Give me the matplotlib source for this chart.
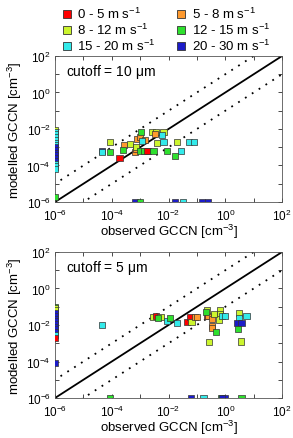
import numpy as np
from matplotlib import pyplot as plt
from matplotlib.lines import Line2D

plt.rcParams['font.family'] = ['Liberation Sans', 'DejaVu Sans']
plt.rcParams['mathtext.fontset'] = 'custom'
plt.rcParams['mathtext.rm'] = 'Liberation Sans'
plt.rcParams['mathtext.it'] = 'Liberation Sans:italic'
plt.rcParams['mathtext.default'] = 'regular'

# wind speed classes
labels = ['0 - 5 m s$^{-1}$', '5 - 8 m s$^{-1}$', '8 - 12 m s$^{-1}$',
          '12 - 15 m s$^{-1}$', '15 - 20 m s$^{-1}$', '20 - 30 m s$^{-1}$']
colors = ['#ff0000', '#ff9a2e', '#ccf52e', '#2ee02e', '#33eaea', '#1c1cc8']

# cutoff = 10 um  (log10 values, class index)
top_x = [-4.06, -4.35, -4.35, -4.06, -3.73, -3.56, -3.61, -3.36, -3.18, -3.16,
         -3.14, -3.09, -3.00, -2.83, -2.94, -2.97, -3.00, -2.86, -2.71, -2.75,
         -2.53, -2.42, -2.59, -2.45, -2.18, -2.48, -2.24, -2.18, -2.06, -1.69,
         -1.57, -1.77, -1.27, -1.10,
         -6, -6, -6, -6, -6, -6, -6, -6, -6, -6, -6, -6, -6, -6, -6, -6, -6,
         -3.18, -3.00, -1.77, -1.48, -0.83, -0.60]
top_y = [-2.70, -3.20, -3.24, -3.24, -3.57, -2.88, -3.14, -2.82, -3.28, -3.10,
         -2.97, -2.55, -2.45, -2.59, -2.64, -2.15, -3.19, -3.19, -3.19, -3.19,
         -3.19, -2.77, -2.15, -2.15, -2.15, -2.27, -2.33, -2.70, -3.19, -2.70,
         -3.19, -3.50, -2.70, -2.70,
         -2.05, -2.15, -2.30, -2.45, -2.60, -2.75, -2.90, -3.00, -3.15, -3.30,
         -3.45, -3.60, -3.75, -3.90, -4.05, -4.20, -5.74,
         -6, -6, -6, -6, -6, -6]
top_c = [2, 5, 4, 3, 0, 1, 3, 2, 1, 1,
         2, 1, 1, 1, 4, 3, 3, 3, 3, 0,
         3, 2, 2, 2, 2, 1, 4, 4, 3, 2,
         4, 3, 4, 4,
         2, 4, 4, 4, 4, 4, 4, 5, 5, 5, 5, 5, 5, 4, 4, 4, 3,
         5, 3, 5, 4, 5, 5]

# cutoff = 5 um
bot_x = [-4.35, -2.53, -2.44, -2.28, -2.36, -2.06, -1.95, -1.71, -1.36, -1.24,
         -1.19, -1.06, -1.01, -0.65, -0.60, -0.65, -0.67, -0.48, -0.48, -0.48,
         -0.33, -0.57, -0.19, -0.19, -0.21, -0.13, -0.01, -0.40, 0.48, 0.49,
         0.43, 0.57, 0.45, 0.75, 0.55,
         -6, -6, -6, -6, -6, -6, -6, -6, -6, -6, -6, -6, -6, -6,
         -4.06, -1.22, -0.77, -0.15, -0.01, -0.13, 0.57]
bot_y = [-1.98, -1.54, -1.49, -1.58, -1.63, -1.80, -1.63, -1.91, -1.82, -1.58,
         -1.82, -1.58, -1.54, -1.49, -1.52, -1.21, -1.30, -1.67, -2.04, -2.18,
         -2.37, -2.91, -1.21, -1.39, -1.70, -1.49, -1.49, -1.39, -1.34, -1.63,
         -1.89, -1.89, -2.22, -1.49, -2.90,
         -1.00, -1.10, -1.20, -1.35, -1.50, -1.65, -1.80, -1.95, -2.10, -2.25,
         -2.40, -2.55, -2.70, -4.10,
         -6, -6, -6, -6, -6, -6, -6]
bot_c = [4, 2, 0, 2, 3, 4, 3, 4, 0, 0,
         2, 1, 1, 0, 1, 2, 3, 1, 1, 1,
         3, 2, 2, 2, 2, 4, 4, 2, 2, 4,
         5, 5, 3, 4, 2,
         3, 2, 2, 5, 5, 5, 5, 5, 5, 5, 5, 4, 0, 5,
         3, 5, 4, 3, 5, 5, 3]

fig = plt.figure(figsize=(2.93, 4.39), dpi=100)
ax1 = fig.add_axes([0.1877, 0.5376, 0.775, 0.3326])
ax2 = fig.add_axes([0.1877, 0.0911, 0.775, 0.3326])


def panel(ax, lx, ly, lc, title):
    lx = np.array(lx)
    ly = np.array(ly)
    cols = [colors[i] for i in lc]
    ax.scatter(10.0**lx, 10.0**ly, s=20, marker='s', c=cols,
               edgecolors='#333333', linewidths=0.5, zorder=3)
    line = np.array([1e-8, 1e4])
    ax.plot(line, line, color='k', lw=1.3, zorder=2)
    ax.plot(line, line * 10, color='k', lw=1.3, ls=(0, (1, 3.5)), zorder=2)
    ax.plot(line, line / 10, color='k', lw=1.3, ls=(0, (1, 3.5)), zorder=2)
    ax.set_xscale('log')
    ax.set_yscale('log')
    ax.set_xlim(1e-6, 1e2)
    ax.set_ylim(1e-6, 1e2)
    dec = [10.0**k for k in range(-6, 3)]
    lab = ['$10^{%d}$' % k if k % 2 == 0 else '' for k in range(-6, 3)]
    ax.set_xticks(dec)
    ax.set_xticklabels(lab)
    ax.set_yticks(dec)
    ax.set_yticklabels(lab)
    ax.minorticks_off()
    ax.tick_params(direction='in', top=True, right=True, length=3,
                   width=0.5, labelsize=8.5, pad=3)
    ax.tick_params(axis='x', pad=4)
    for s in ax.spines.values():
        s.set_linewidth(0.6)
        s.set_color('#555555')
    ax.set_xlabel('observed GCCN [cm$^{-3}$]', fontsize=9.5, labelpad=-1)
    ax.set_ylabel('modelled GCCN [cm$^{-3}$]', fontsize=9.5, labelpad=2)
    ax.text(0.05, 0.9, title, transform=ax.transAxes, fontsize=10,
            va='center', ha='left')


panel(ax1, top_x, top_y, top_c, 'cutoff = 10 $\\mu$m')
panel(ax2, bot_x, bot_y, bot_c, 'cutoff = 5 $\\mu$m')

handles = [Line2D([], [], marker='s', ls='none', markersize=6,
                  markerfacecolor=c, markeredgecolor='#333333',
                  markeredgewidth=0.6) for c in colors]
order = [0, 2, 4, 1, 3, 5]
fig.legend([handles[i] for i in order], [labels[i] for i in order],
           ncol=2, loc='upper left', bbox_to_anchor=(0.185, 1.0),
           frameon=False, fontsize=9.5, handlelength=0.8, handletextpad=0.4,
           columnspacing=1.5, labelspacing=0.05, borderaxespad=0.15)

fig.savefig('out.png', dpi=100)
